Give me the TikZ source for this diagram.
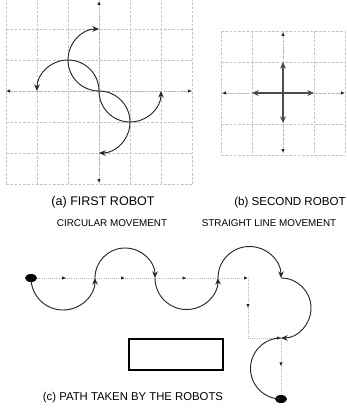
\documentclass[tikz,border=0pt]{standalone}
\usepackage{fontspec}
\setmainfont{Liberation Sans}
\usepackage{tikz}
\usetikzlibrary{shapes,arrows,positioning,fit,calc,arrows.meta,decorations.markings}

\begin{document}
\begin{tikzpicture}[
    x=0.75pt, y=-0.75pt,
    gridline/.style={draw=gray!45, line width=0.4pt, dash pattern=on 2pt off 1.2pt},
    axis/.style={draw=gray!65, densely dotted, line width=0.7pt, {Latex[length=3pt,width=2.6pt,color=black!85]}-{Latex[length=3pt,width=2.6pt,color=black!85]}},
    move/.style={draw=black!85, line width=0.7pt, -{Stealth[length=5pt,width=4.2pt]}},
    cross/.style={draw=black!70, line width=1.1pt, -{Stealth[length=5pt,width=4.5pt]}},
    flow/.style={draw=gray!60, densely dotted, line width=0.6pt},
    midflow/.style={flow, postaction={decorate}, decoration={markings, mark=at position 0.5 with {\arrow{Latex[length=3pt,width=2.6pt,color=black!85]}}}},
    endflow/.style={flow, -{Latex[length=3pt,width=2.6pt,color=black!85]}},
    robot/.style={ellipse, fill=black, minimum width=9pt, minimum height=6pt, inner sep=0pt},
    block/.style={draw, line width=1pt, minimum width=70.5pt, minimum height=23.25pt, inner sep=0pt},
    title/.style={font=\fontsize{9}{10}\selectfont, inner sep=0pt},
    subtitle/.style={font=\fontsize{7.4}{9}\selectfont, inner sep=0pt}
]
\useasboundingbox (0,0) rectangle (346,410);

% (a) first robot
\foreach \i in {0,...,6} \draw[gridline] ({6+31*\i},-2) -- ({6+31*\i},184);
\foreach \j in {0,...,6} \draw[gridline] (6,{-2+31*\j}) -- (192,{-2+31*\j});
\coordinate (ao) at (99,91);
\coordinate (al) at (6,91);
\coordinate (ar) at (192,91);
\coordinate (at) at (99,1);
\coordinate (ab) at (99,183);
\draw[axis] (al) -- (ar);
\draw[axis] (at) -- (ab);
\draw[move] (ao) arc[start angle=90, end angle=270, radius=31];
\draw[move] (ao) arc[start angle=0, end angle=-180, radius=31];
\draw[move] (ao) arc[start angle=180, end angle=0, radius=31];
\draw[move] (ao) arc[start angle=-90, end angle=90, radius=31];

% (b) second robot
\foreach \i in {0,...,4} \draw[gridline] ({221+31*\i},31) -- ({221+31*\i},155);
\foreach \j in {0,...,4} \draw[gridline] (221,{31+31*\j}) -- (345,{31+31*\j});
\coordinate (bo) at (283,93);
\coordinate (bl) at (222,93);
\coordinate (br) at (345,93);
\coordinate (bt) at (283,32);
\coordinate (bb) at (283,153);
\draw[axis] (bl) -- (br);
\draw[axis] (bt) -- (bb);
\draw[cross] (bo) -- (252,93);
\draw[cross] (bo) -- (314,93);
\draw[cross] (bo) -- (283,62);
\draw[cross] (bo) -- (283,123);

\node[title, font=\fontsize{9.4}{10}\selectfont] (capa) at (103,202) {(a) FIRST ROBOT};
\node[title, font=\fontsize{8.7}{10}\selectfont] (capb) at (290,202) {(b) SECOND ROBOT};
\node[subtitle] (suba) at (112,223) {CIRCULAR MOVEMENT};
\node[subtitle] (subb) at (269,223) {STRAIGHT LINE MOVEMENT};

% (c) path
\node[robot] (start) at (31,278) {};
\coordinate (p1) at (95,278);
\coordinate (p2) at (155,278);
\coordinate (p3) at (218,278);
\coordinate (p4) at (248,278);
\coordinate (p5) at (281,278);
\coordinate (q1) at (248,338);
\coordinate (q2) at (281,338);
\node[robot] (stop) at (281,399) {};

\draw[midflow] (start) -- (p1);
\draw[midflow] (p1) -- (p2);
\draw[midflow] (p2) -- (p3);
\draw[endflow] (p3) -- (p4);
\draw[midflow] (p4) -- (q1);
\draw[endflow] (q1) -- (q2);
\draw[midflow] (q2) -- (stop);

\draw[move] (start.center) arc[start angle=180, end angle=0, radius=32];
\draw[move] (p1) arc[start angle=180, end angle=360, radius=30];
\draw[move] (p2) arc[start angle=180, end angle=0, radius=31.5];
\draw[move] (p3) arc[start angle=180, end angle=360, radius=31.5];
\draw[move] (p5) arc[start angle=-90, end angle=90, radius=30];
\draw[draw=black!85, line width=0.7pt] (q2) arc[start angle=-90, end angle=-270, radius=30.5];

\node[block] (wall) at (176,354.5) {};
\node[title, font=\fontsize{8.5}{10}\selectfont] (capc) at (133,398) {(c) PATH TAKEN BY THE ROBOTS};
\end{tikzpicture}
\end{document}
